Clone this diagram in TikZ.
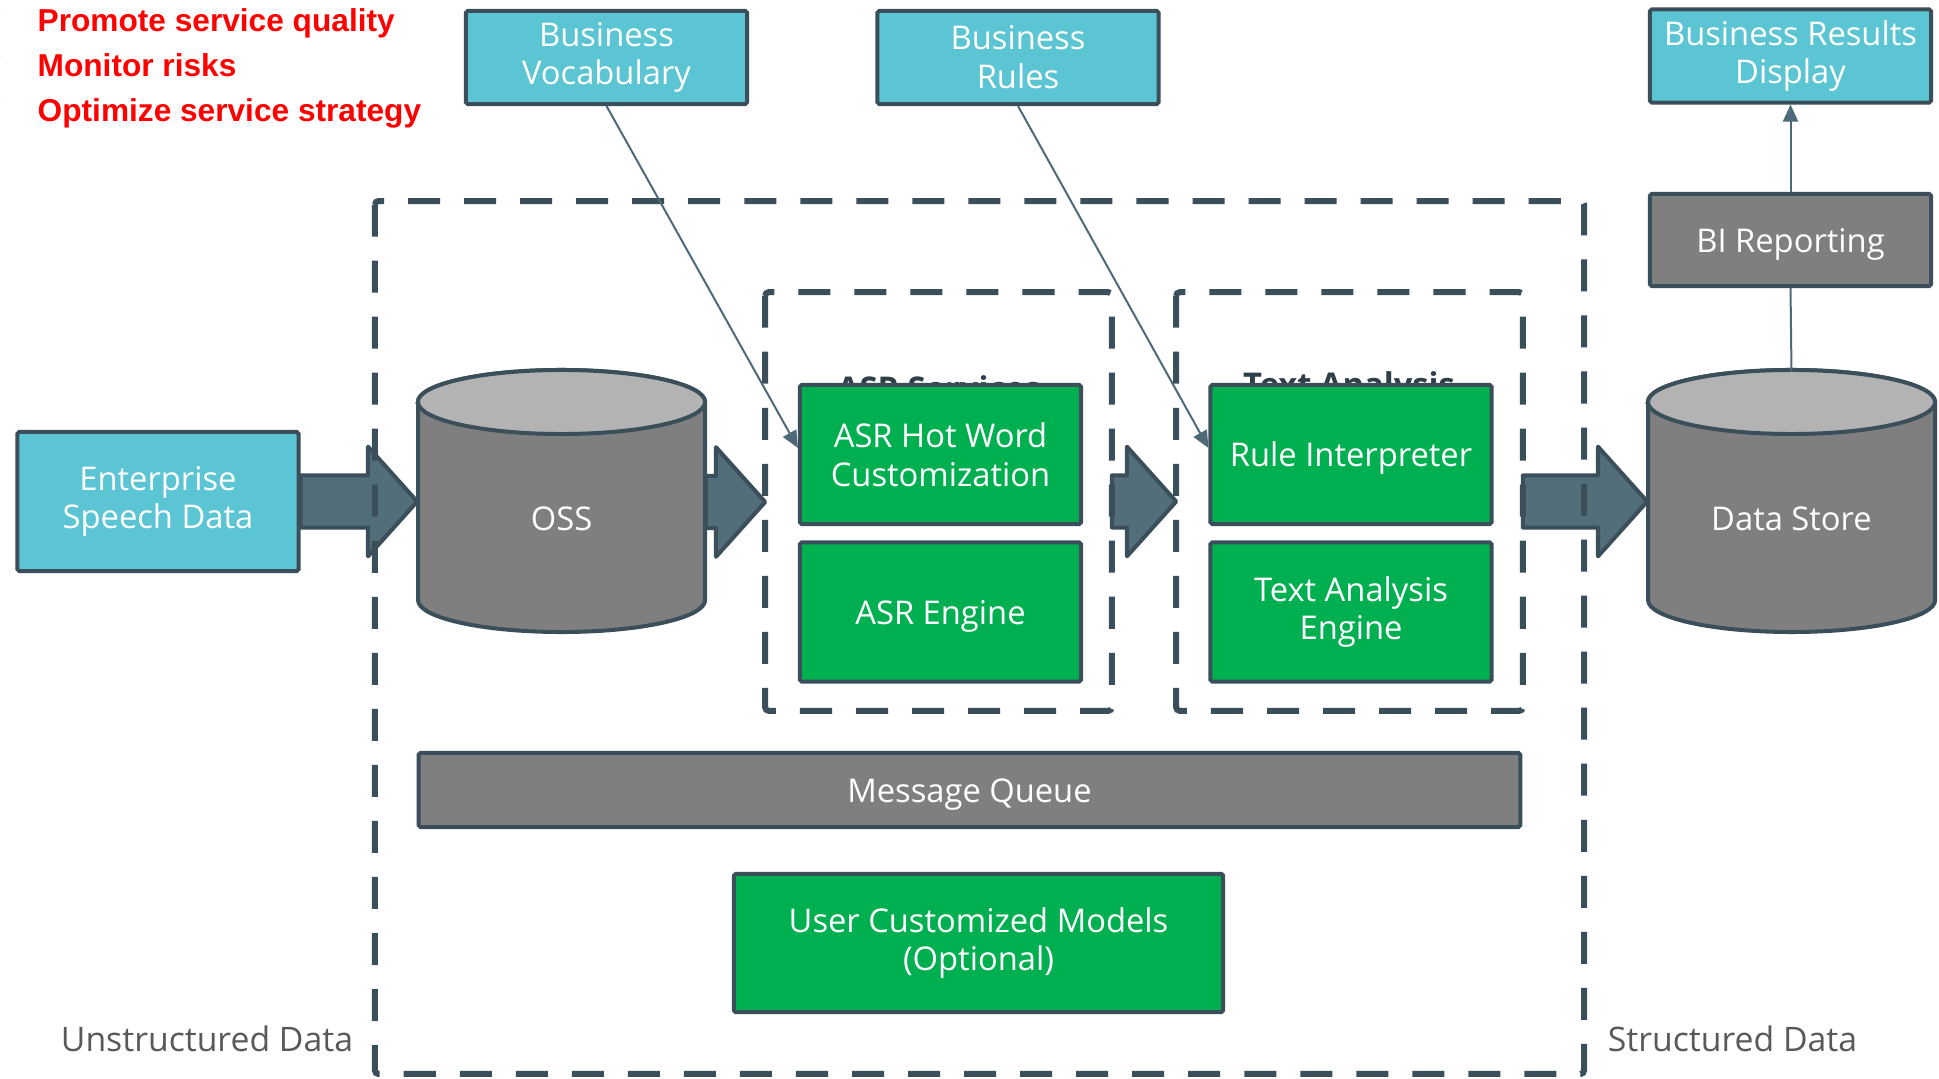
\documentclass[tikz,border=0pt]{standalone}
\usepackage{fontspec}
\setmainfont{Open Sans}
\newfontfamily\goalfont{Liberation Sans}
\newfontfamily\tickfont{DejaVu Sans}
\usetikzlibrary{calc,arrows.meta}
\definecolor{skyfill}{HTML}{5BC5D3}
\definecolor{edge}{HTML}{3B4F5A}
\definecolor{okgreen}{HTML}{00B050}
\definecolor{midgray}{HTML}{7F7F7F}
\definecolor{topgray}{HTML}{B3B3B3}
\definecolor{flowfill}{HTML}{526E7B}
\definecolor{wire}{HTML}{4E6A78}
\definecolor{labelgray}{HTML}{595959}
\tikzset{x=0.01cm, y=0.01cm,
  box/.style={draw=edge, line width=0.04cm, rounded corners=0.5pt, text=white, align=center,
    font=\fontsize{9.3}{11}\selectfont, minimum width=2.81cm, minimum height=1.39cm, inner sep=0pt,
    execute at begin node={\rule{0pt}{9.3pt}}},
  blue/.style={box, fill=skyfill, minimum height=0.93cm},
  greenbox/.style={box, fill=okgreen},
  graybox/.style={box, fill=midgray},
  drumlabel/.style={minimum width=2.87cm, minimum height=2.62cm, inner sep=0pt},
  drumtext/.style={text=white, font=\fontsize{9.3}{11}\selectfont},
  frame/.style={minimum width=3.45cm, minimum height=4.17cm, inner sep=0pt},
  dashbox/.style={draw=edge, line width=0.06cm, dash pattern=on 0.32cm off 0.24cm, rounded corners=1pt},
  flow/.style={fill=flowfill, draw=edge, line width=0.04cm, line join=round},
  wireline/.style={draw=wire, line width=0.02cm, -{Triangle[length=0.17cm, width=0.15cm]}},
  groupname/.style={text=edge!80!black, font=\bfseries\fontsize{9.3}{11}\selectfont},
  side/.style={text=labelgray, font=\fontsize{9.6}{11}\selectfont},
  goal/.style={text=red, anchor=base west, inner sep=0pt, font=\goalfont\bfseries\fontsize{9}{11}\selectfont},
  tick/.style={text=red, anchor=base east, inner sep=0pt, font=\tickfont\fontsize{8}{10}\selectfont}}
\newcommand{\drum}[1]{%
  \filldraw[fill=midgray, draw=edge, line width=0.04cm] ($#1+(-143.5,100)$) -- ($#1+(-143.5,-98)$)
    arc[start angle=180, end angle=360, x radius=1.435cm, y radius=0.32cm] -- ($#1+(143.5,100)$)
    arc[start angle=0, end angle=180, x radius=1.435cm, y radius=0.32cm] -- cycle;
  \filldraw[fill=topgray, draw=edge, line width=0.04cm] ($#1+(0,100)$) ellipse[x radius=1.435cm, y radius=0.32cm];}
\newcommand{\bigflow}[2]{%
  \draw[flow] let \p1=(#1), \p2=(#2) in
    (\x1,\y1+7.4pt) -- (\x2-14pt,\y1+7.4pt) -- (\x2-14pt,\y1+15.6pt) -- (\x2,\y1)
    -- (\x2-14pt,\y1-15.6pt) -- (\x2-14pt,\y1-7.4pt) -- (\x1,\y1-7.4pt) -- cycle;}

\begin{document}
\begin{tikzpicture}
  \useasboundingbox (0,0) rectangle (1939,1078);

  \node[tick] (t1) at (6,1048) {✓};
  \node[tick] (t2) at (6,1003) {✓};
  \node[tick] (t3) at (6,958) {✓};
  \node[goal] (g1) at (37,1046) {Promote service quality};
  \node[goal] (g2) at (37,1001) {Monitor risks};
  \node[goal] (g3) at (37,956) {Optimize service strategy};

  \node[blue] (vocab) at (606.5,1020.5) {Business\\Vocabulary};
  \node[blue] (rules) at (1018,1020.5) {Business\\Rules};
  \node[blue] (show) at (1790.5,1022) {Business Results\\Display};
  \node[graybox, minimum height=0.92cm] (bi) at (1790.5,838) {BI Reporting};

  \node[blue, minimum height=1.39cm] (speech) at (158,576.5) {Enterprise\\Speech Data};

  \drum{(561.5,576)}
  \node[drumlabel] (oss) at (561.5,576) {};
  \node[drumtext] (osstext) at (561.5,559) {OSS};
  \drum{(1791.5,576)}
  \node[drumlabel] (store) at (1791.5,576) {};
  \node[drumtext] (storetext) at (1791.5,559) {Data Store};

  \path (979.5,440.5) node[minimum width=12.07cm, minimum height=8.71cm, inner sep=0pt] (core) {};
  \path (938.5,576.5) node[frame] (asrgrp) {};
  \path (1349.5,576.5) node[frame] (tagrp) {};

  \node[groupname] (asrname) at (939,690) {ASR Services};
  \node[groupname] (taname) at (1349,690) {Text Analysis};

  \node[greenbox] (hotword) at (940.5,623.5) {ASR Hot Word\\Customization};
  \node[greenbox] (asreng) at (940.5,466) {ASR Engine};
  \node[greenbox] (interp) at (1351,623.5) {Rule Interpreter};
  \node[greenbox] (taeng) at (1351,466) {Text Analysis\\Engine};

  \node[graybox, minimum width=11.01cm, minimum height=0.74cm] (queue) at (969.5,288) {Message Queue};
  \node[greenbox, minimum width=4.89cm, minimum height=1.38cm] (models) at (978.5,135) {User Customized Models\\(Optional)};

  \bigflow{speech.east}{oss.west}
  \bigflow{oss.east}{asrgrp.west}
  \bigflow{asrgrp.east}{tagrp.west}
  \bigflow{tagrp.east}{store.west}

  \draw[dashbox] (asrgrp.north west) rectangle (asrgrp.south east);
  \draw[dashbox] (tagrp.north west) rectangle (tagrp.south east);
  \draw[dashbox] (core.north west) rectangle (core.south east);

  \draw[wireline] (vocab.south) -- ($(hotword.west)+(0,6.5)$);
  \draw[wireline] (rules.south) -- ($(interp.west)+(0,6.5)$);
  \draw[wireline] (bi.north) -- (show.south);
  \draw[draw=wire, line width=0.02cm] ($(store.north)+(0,-2)$) -- (bi.south);

  \node[side] (unstr) at (207,39) {Unstructured Data};
  \node[side] (str) at (1732.5,39) {Structured Data};
\end{tikzpicture}
\end{document}
